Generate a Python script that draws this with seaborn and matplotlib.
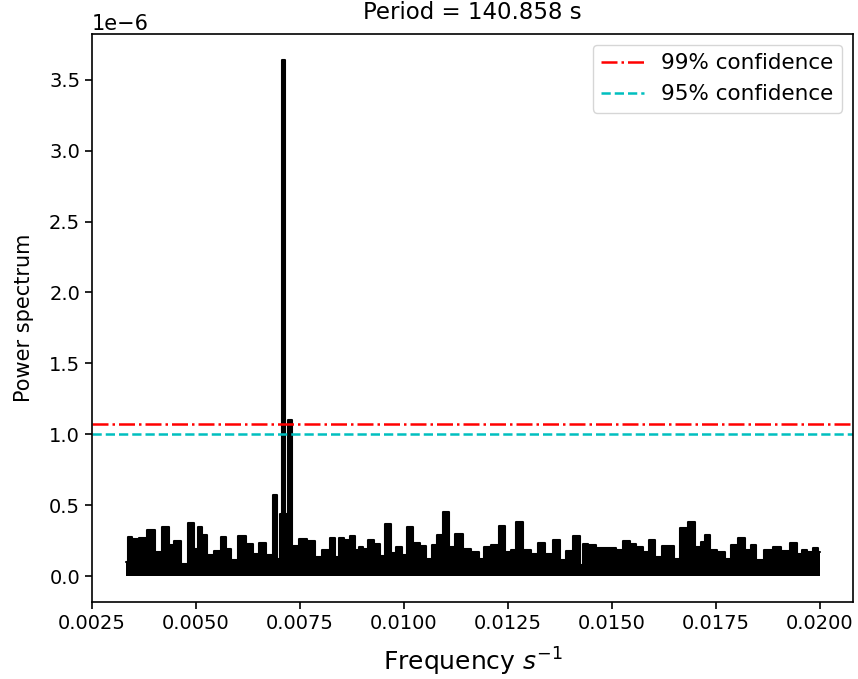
import numpy as np
import pandas as pd
import matplotlib
matplotlib.use("Agg")
import matplotlib.pyplot as plt
import seaborn as sns

# Frequencies (s^-1) of the local maxima/minima
freq = [
    0.003330, 0.003413, 0.003534, 0.003719, 0.003935, 0.004094, 0.004279, 0.004416,
    0.004551, 0.004736, 0.004897, 0.005000, 0.005096, 0.005216, 0.005337, 0.005536,
    0.005656, 0.005793, 0.005897, 0.006113, 0.006298, 0.006459, 0.006594, 0.006779,
    0.006916, 0.006980, 0.007040, 0.007100, 0.007170, 0.007243, 0.007380, 0.007580,
    0.007781, 0.007941, 0.008142, 0.008301, 0.008382, 0.008502, 0.008623, 0.008767,
    0.008863, 0.008966, 0.009087, 0.009199, 0.009343, 0.009488, 0.009623, 0.009743,
    0.009887, 0.010024, 0.010144, 0.010305, 0.010464, 0.010601, 0.010745, 0.010865,
    0.011002, 0.011146, 0.011329, 0.011507, 0.011731, 0.011868, 0.012002, 0.012187,
    0.012372, 0.012507, 0.012627, 0.012771, 0.012949, 0.013149, 0.013310, 0.013469,
    0.013685, 0.013829, 0.013950, 0.014190, 0.014271, 0.014351, 0.014512, 0.014712,
    0.014873, 0.015031, 0.015192, 0.015368, 0.015512, 0.015673, 0.015834, 0.015978,
    0.016113, 0.016315, 0.016435, 0.016555, 0.016738, 0.016916, 0.017075, 0.017195,
    0.017277, 0.017435, 0.017637, 0.017796, 0.017957, 0.018118, 0.018277, 0.018397,
    0.018558, 0.018782, 0.018959, 0.019159, 0.019399, 0.019519, 0.019639, 0.019760,
    0.019920, 0.020000,
]
# Power (units of 1e-6)
power_e6 = [
    0.100, 0.276, 0.264, 0.271, 0.327, 0.170, 0.350, 0.217,
    0.248, 0.089, 0.376, 0.194, 0.346, 0.292, 0.147, 0.178,
    0.276, 0.194, 0.112, 0.280, 0.224, 0.159, 0.234, 0.147,
    0.570, 0.120, 0.440, 3.640, 0.440, 1.100, 0.210, 0.264,
    0.248, 0.135, 0.182, 0.271, 0.135, 0.271, 0.257, 0.280,
    0.182, 0.206, 0.194, 0.257, 0.229, 0.140, 0.369, 0.163,
    0.206, 0.147, 0.350, 0.234, 0.210, 0.124, 0.217, 0.287,
    0.451, 0.206, 0.294, 0.194, 0.170, 0.124, 0.206, 0.217,
    0.353, 0.170, 0.182, 0.383, 0.182, 0.159, 0.234, 0.154,
    0.257, 0.112, 0.178, 0.280, 0.077, 0.224, 0.217, 0.201,
    0.201, 0.201, 0.182, 0.248, 0.229, 0.206, 0.170, 0.257,
    0.135, 0.210, 0.210, 0.124, 0.341, 0.383, 0.206, 0.241,
    0.287, 0.182, 0.170, 0.124, 0.217, 0.271, 0.182, 0.217,
    0.112, 0.182, 0.206, 0.178, 0.234, 0.154, 0.182, 0.170,
    0.201, 0.170,
]
conf99 = 1.07e-6
conf95 = 1.00e-6
period = 140.858
xtick_labels = ["0.0025", "0.0050", "0.0075", "0.0100", "0.0125", "0.0150", "0.0175", "0.0200"]

df = pd.DataFrame({"freq": freq, "power": np.array(power_e6) * 1e-6})

sns.set_style("ticks")
plt.rcParams.update({
    "font.family": ["DejaVu Sans"],
    "axes.edgecolor": "black",
    "text.color": "black",
    "axes.labelcolor": "black",
    "xtick.color": "black",
    "ytick.color": "black",
    "xtick.direction": "out",
    "ytick.direction": "out",
})

fig = plt.figure(figsize=(8.58, 6.79), dpi=100)
ax = fig.add_axes([0.1072, 0.1134, 0.887, 0.8365])

ax.fill_between(df["freq"], 0, df["power"], step="mid", color="black", lw=0)
sns.lineplot(data=df, x="freq", y="power", ax=ax, color="black", lw=1.5,
             drawstyle="steps-mid", estimator=None, sort=False)
ax.axhline(conf99, color="red", ls="-.", lw=1.8, label="99% confidence")
ax.axhline(conf95, color="c", ls="--", lw=1.8, label="95% confidence")

ax.set_xlim(0.0025, 0.0208)
ax.set_ylim(-0.182e-6, 3.822e-6)
ax.set_xticks([float(t) for t in xtick_labels])
ax.set_xticklabels(xtick_labels)
ax.tick_params(labelsize=14, length=5, width=1.2)
ax.yaxis.get_offset_text().set_fontsize(15)
for s in ax.spines.values():
    s.set_linewidth(1.2)

ax.set_xlabel("Frequency $s^{-1}$", fontsize=18, labelpad=9)
ax.set_ylabel("Power spectrum", fontsize=15, labelpad=11)
ax.set_title(f"Period = {period} s", fontsize=16.5, pad=11)
ax.legend(loc="upper right", fontsize=15.5, frameon=True, handlelength=2.0)

fig.savefig("out.png", dpi=100)
